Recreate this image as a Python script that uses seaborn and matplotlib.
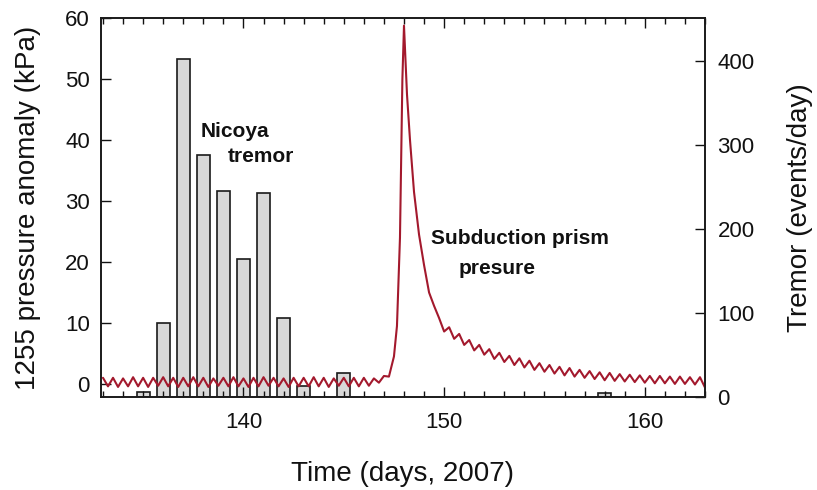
import numpy as np
import pandas as pd
import seaborn as sns
import matplotlib.pyplot as plt
from matplotlib.ticker import MultipleLocator

# Tremor counts per day (right axis)
tremor_days = [135, 136, 137, 138, 139, 140, 141, 142, 143, 145, 158]
tremor_counts = [6, 88, 402, 288, 245, 164, 243, 94, 13, 28, 5]

# Pressure anomaly at borehole 1255 (left axis)
# quiet period before the event, every 6 h
pre_days = np.arange(133.0, 147.0, 0.25)
pre_kpa = [1.0, -0.4, 1.0, -0.5, 0.9, -0.4, 1.1, -0.4,
           1.0, -0.5, 1.0, -0.3, 1.1, -0.4, 1.0, -0.5,
           1.0, -0.4, 1.1, -0.4, 1.0, -0.5, 0.9, -0.3,
           1.0, -0.4, 1.1, -0.4, 0.9, -0.5, 1.0, -0.4,
           1.1, -0.3, 1.0, -0.4, 0.9, -0.5, 1.0, -0.4,
           1.0, -0.4, 1.1, -0.4, 1.0, -0.5, 0.9, -0.3,
           1.0, -0.4, 1.0, -0.4, 1.0, -0.3, 0.9, 0.2]

# the spike
spike_days = [147.0, 147.25, 147.5, 147.65, 147.8, 147.92, 148.0,
              148.15, 148.3, 148.5, 148.75, 149.0, 149.25, 149.5, 149.75]
spike_kpa = [1.3, 1.2, 4.5, 9.5, 24.0, 50.0, 58.8,
             47.5, 40.0, 31.5, 24.5, 19.5, 15.0, 12.8, 10.8]

# decay with tidal ripple
post_days = np.arange(150.0, 163.01, 0.25)
post_kpa = [8.6, 9.3, 7.4, 8.2, 6.4, 7.2, 5.5, 6.4,
            4.8, 5.7, 4.1, 5.1, 3.6, 4.6, 3.1, 4.2,
            2.7, 3.8, 2.3, 3.4, 2.0, 3.1, 1.7, 2.8,
            1.4, 2.6, 1.2, 2.3, 1.0, 2.1, 0.8, 1.9,
            0.6, 1.8, 0.5, 1.6, 0.4, 1.5, 0.3, 1.4,
            0.2, 1.3, 0.1, 1.3, 0.1, 1.2, 0.0, 1.2,
            0.0, 1.1, -0.1, 1.1, -0.6]

pressure = pd.DataFrame({
    "day": np.concatenate([pre_days, spike_days, post_days]),
    "kpa": pre_kpa + spike_kpa + post_kpa,
})

sns.set_theme(style="ticks")
plt.rcParams["font.family"] = ["Liberation Sans", "DejaVu Sans"]
plt.rcParams["text.color"] = "#111111"
plt.rcParams["axes.labelcolor"] = "#111111"
plt.rcParams["xtick.color"] = "#111111"
plt.rcParams["ytick.color"] = "#111111"

fig, ax = plt.subplots(figsize=(8.17, 4.9), dpi=100)
fig.subplots_adjust(left=0.1236, right=0.8629, top=0.9626, bottom=0.1898)
ax2 = ax.twinx()

# bars on the right axis
sns.barplot(x=tremor_days, y=tremor_counts, native_scale=True, width=0.65,
            color="#d8d8d8", saturation=1, edgecolor="#1a1a1a", linewidth=1.2,
            ax=ax2)

# pressure line on the left axis, drawn above the bars
sns.lineplot(data=pressure, x="day", y="kpa", sort=False, color="#a3192d",
             linewidth=1.5, ax=ax)
ax.set_zorder(ax2.get_zorder() + 1)
ax.patch.set_visible(False)

ax.set_xlim(132.9, 163.0)
ax.set_ylim(-2.15, 60)
ax2.set_ylim(0, 450.5)

ax.xaxis.set_major_locator(MultipleLocator(10))
ax.xaxis.set_minor_locator(MultipleLocator(1))
ax.yaxis.set_major_locator(MultipleLocator(10))
ax2.yaxis.set_major_locator(MultipleLocator(100))

ax.tick_params(axis="x", which="both", direction="in", top=True, bottom=True,
               labelsize=16, pad=11)
ax.tick_params(axis="x", which="major", length=7, width=1)
ax.tick_params(axis="x", which="minor", length=4, width=1)
ax.tick_params(axis="y", direction="in", left=True, right=False, length=7,
               width=1, labelsize=16, pad=8)
ax2.tick_params(axis="y", direction="in", right=True, length=7, width=1,
                labelsize=16, pad=9)

for a in (ax, ax2):
    for s in a.spines.values():
        s.set_visible(True)
        s.set_linewidth(1.2)
        s.set_color("#1a1a1a")

ax.set_xlabel("Time (days, 2007)", fontsize=20, labelpad=20)
ax.set_ylabel("1255 pressure anomaly (kPa)", fontsize=20, labelpad=17)
ax2.set_ylabel("Tremor (events/day)", fontsize=20, labelpad=23)

ax.text(137.85, 41.4, "Nicoya", fontsize=15, fontweight="bold", va="center")
ax.text(139.2, 37.3, "tremor", fontsize=15, fontweight="bold", va="center")
ax.text(149.35, 23.9, "Subduction prism", fontsize=15, fontweight="bold",
        va="center")
ax.text(150.7, 19.0, "presure", fontsize=15, fontweight="bold", va="center")

plt.savefig("out.png", dpi=100)
